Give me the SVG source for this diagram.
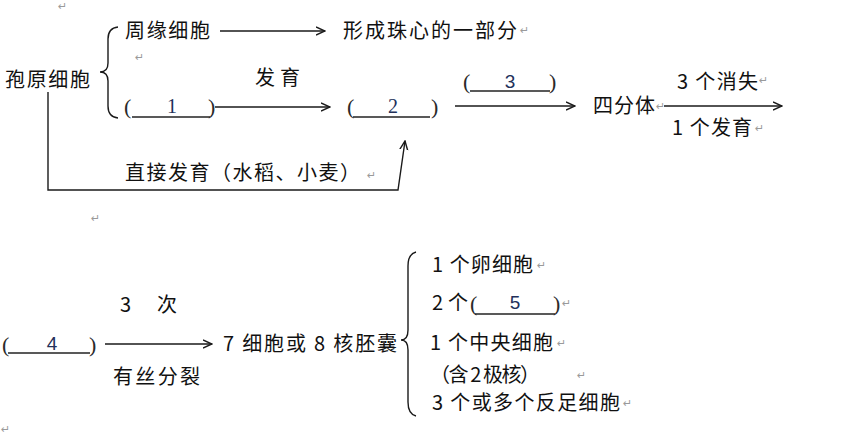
<svg xmlns="http://www.w3.org/2000/svg" width="848" height="436" viewBox="0 0 848 436">
<defs>
<style>
.t{font-family:"Noto Sans CJK SC","Liberation Sans",sans-serif;font-size:20px;fill:#111}
.n{font-family:"Liberation Sans","Noto Sans CJK SC",sans-serif;font-size:19px;fill:#22305a}
.s{font-family:"Liberation Serif",serif;font-size:20px;fill:#22305a}
.p{font-family:"Liberation Serif",serif;font-size:22px;fill:#2a2a2a}
.m{font-family:"DejaVu Sans",sans-serif;font-size:11px;fill:#9a9a9a}
.l{fill:none;stroke:#1a1a1a;stroke-width:1.4}
.u{fill:none;stroke:#222;stroke-width:1.3}
</style>
<marker id="ah" viewBox="0 0 10 10" markerUnits="userSpaceOnUse" markerWidth="10" markerHeight="10" refX="9" refY="5" orient="auto">
<path d="M0,1 L9,5 L0,9" fill="none" stroke="#1a1a1a" stroke-width="1.4"/>
</marker>
</defs>
<rect width="848" height="436" fill="#ffffff"/>

<g id="connectors">
<line class="l" x1="220" y1="31" x2="325" y2="31" marker-end="url(#ah)"/>
<line class="l" x1="215" y1="107" x2="330" y2="107" marker-end="url(#ah)"/>
<polyline class="l" points="48,92 48,190 398,190 405,141" marker-end="url(#ah)"/>
<line class="l" x1="455" y1="106" x2="575" y2="106" marker-end="url(#ah)"/>
<line class="l" x1="664" y1="106" x2="782" y2="106" marker-end="url(#ah)"/>
<line class="l" x1="105" y1="344" x2="212" y2="344" marker-end="url(#ah)"/>
<path class="l" d="M118,27 Q108,28 108,39 L108,63 Q108,72 100,72 Q108,72 108,81 L108,106 Q108,117 118,118"/>
<path class="l" d="M416,252 Q408,254 408,266 L408,330 Q408,340 401,340 Q408,340 408,350 L408,402 Q408,414 416,416"/>
</g>

<g id="node-baoyuan"><text class="t" x="5" y="87" textLength="85" lengthAdjust="spacing">孢原细胞</text></g>
<g id="node-zhouyuan"><text class="t" x="125" y="38" textLength="85" lengthAdjust="spacing">周缘细胞</text></g>
<g id="node-zhuxin"><text class="t" x="343" y="38" textLength="174" lengthAdjust="spacing">形成珠心的一部分</text></g>
<g id="label-fayu"><text class="t" x="255" y="85" textLength="45" lengthAdjust="spacing">发育</text></g>

<g id="node-1">
<text class="p" x="124" y="114">(</text>
<line class="u" x1="132" y1="117" x2="210" y2="117"/>
<text class="s" x="172" y="113" text-anchor="middle">1</text>
<text class="p" x="208" y="114">)</text>
</g>
<g id="node-2">
<text class="p" x="347" y="114">(</text>
<line class="u" x1="353" y1="117" x2="430" y2="117"/>
<text class="s" x="393" y="113" text-anchor="middle">2</text>
<text class="p" x="431" y="114">)</text>
</g>
<g id="label-zhijie"><text class="t" x="125" y="180" textLength="235" lengthAdjust="spacing">直接发育（水稻、小麦）</text></g>

<g id="node-3">
<text class="p" x="463" y="89">(</text>
<line class="u" x1="470" y1="91" x2="550" y2="91"/>
<text class="n" x="510" y="88" text-anchor="middle">3</text>
<text class="p" x="549" y="89">)</text>
</g>
<g id="node-sifenti"><text class="t" x="593" y="113" textLength="62" lengthAdjust="spacing">四分体</text></g>
<g id="label-xiaoshi"><text class="t" x="677" y="89" textLength="81" lengthAdjust="spacing">3 个消失</text></g>
<g id="label-fayu2"><text class="t" x="672" y="135" textLength="80" lengthAdjust="spacing">1 个发育</text></g>

<g id="node-4">
<text class="p" x="2" y="352">(</text>
<line class="u" x1="8" y1="353" x2="90" y2="353"/>
<text class="n" x="52" y="350" text-anchor="middle">4</text>
<text class="p" x="89" y="352">)</text>
</g>
<g id="label-3ci"><text class="t" x="120" y="312">3</text><text class="t" x="157" y="312">次</text></g>
<g id="label-yousi"><text class="t" x="113" y="384" textLength="87" lengthAdjust="spacing">有丝分裂</text></g>
<g id="node-peinang"><text class="t" x="223" y="351" textLength="174" lengthAdjust="spacing">7 细胞或 8 核胚囊</text></g>

<g id="node-luanxibao"><text class="t" x="432" y="272" textLength="101" lengthAdjust="spacing">1 个卵细胞</text></g>
<g id="node-5">
<text class="t" x="432" y="310" textLength="36" lengthAdjust="spacing">2 个</text>
<text class="p" x="470" y="311">(</text>
<line class="u" x1="475" y1="314" x2="555" y2="314"/>
<text class="n" x="515" y="309" text-anchor="middle" fill="#24408a">5</text>
<text class="p" x="553" y="311">)</text>
</g>
<g id="node-zhongyang"><text class="t" x="430" y="350" textLength="123" lengthAdjust="spacing">1 个中央细胞</text></g>
<g id="node-jihe"><text class="t" x="430" y="382" textLength="110" lengthAdjust="spacing">（含 2 极核）</text></g>
<g id="node-fanzu"><text class="t" x="432" y="410" textLength="188" lengthAdjust="spacing">3 个或多个反足细胞</text></g>

<g id="marks">
<text class="m" x="58" y="10">↵</text>
<text class="m" x="135" y="61">↵</text>
<text class="m" x="367" y="179">↵</text>
<text class="m" x="91" y="222">↵</text>
<text class="m" x="520" y="34">↵</text>
<text class="m" x="656" y="110">↵</text>
<text class="m" x="759" y="84">↵</text>
<text class="m" x="755" y="132">↵</text>
<text class="m" x="537" y="269">↵</text>
<text class="m" x="562" y="307">↵</text>
<text class="m" x="557" y="347">↵</text>
<text class="m" x="577" y="379">↵</text>
<text class="m" x="623" y="407">↵</text>
<text class="m" x="1" y="433">↵</text>
</g>
</svg>
